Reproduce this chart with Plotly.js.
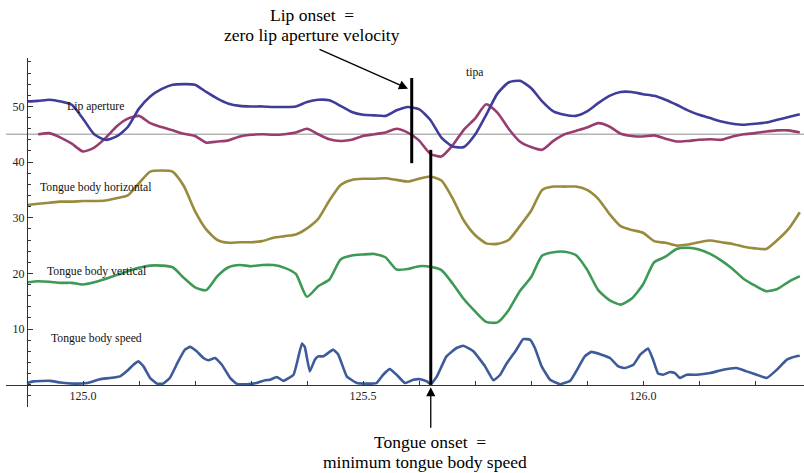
<!DOCTYPE html>
<html>
<head>
<meta charset="utf-8">
<script src="https://cdn.plot.ly/plotly-3.0.1.min.js"></script>
<style>html,body{margin:0;padding:0;background:#fff;}#chart{width:804px;height:473px;}</style>
</head>
<body>
<div id="chart"></div>
<script>
// ---- data ----
const time = [124.90,124.92,124.94,124.96,124.98,125.00,125.02,125.04,125.06,125.08,
  125.10,125.12,125.14,125.16,125.18,125.20,125.22,125.24,125.26,125.28,
  125.30,125.32,125.34,125.36,125.38,125.40,125.42,125.44,125.46,125.48,
  125.50,125.52,125.54,125.56,125.58,125.60,125.62,125.64,125.66,125.68,
  125.70,125.72,125.74,125.76,125.78,125.80,125.82,125.84,125.86,125.88,
  125.90,125.92,125.94,125.96,125.98,126.00,126.02,126.04,126.06,126.08,
  126.10,126.12,126.14,126.16,126.18,126.20,126.22,126.24,126.26,126.28];

const lipAperture = [50.9,51.0,51.2,50.9,50.3,47.8,45.0,44.0,44.6,46.3,
  49.6,51.8,53.1,53.9,54.0,53.9,52.6,51.4,50.5,50.1,
  50.0,50.0,49.9,49.9,50.0,50.8,51.2,51.1,50.1,49.0,
  48.5,48.4,48.3,49.3,49.9,49.5,47.6,44.4,42.8,42.7,
  44.9,48.5,52.3,54.3,54.6,53.3,50.9,49.1,48.5,48.3,
  49.1,50.6,51.9,52.6,52.6,52.2,51.9,51.2,50.3,49.3,
  48.5,47.9,47.3,46.9,46.7,46.9,47.1,47.6,48.1,48.6];

const lipSecond = [null,45.0,45.2,44.4,43.3,41.9,42.6,44.3,46.4,47.8,
  48.3,47.0,46.3,45.7,45.1,44.7,43.5,43.7,43.9,44.6,
  44.9,45.0,44.9,45.0,45.3,46.0,45.0,44.1,43.8,44.0,
  44.7,45.0,45.3,46.0,45.3,43.9,41.5,41.0,43.0,45.8,
  47.8,50.4,48.9,46.0,43.7,42.7,42.2,43.8,45.0,45.6,
  46.2,47.0,46.4,45.1,44.7,44.6,44.8,44.2,43.7,43.8,
  44.0,44.1,44.0,44.6,45.0,45.2,45.5,45.7,45.7,45.3];

const tongueHorizontal = [32.3,32.5,32.7,32.9,32.9,33.0,33.0,33.1,33.5,34.0,
  36.2,38.3,38.5,38.3,35.7,31.2,27.9,26.0,25.5,25.6,
  25.6,25.8,26.4,26.7,27.0,28.1,29.8,33.1,35.9,36.8,
  37.0,37.0,37.1,36.8,36.5,37.0,37.4,36.7,33.5,29.5,
  26.9,25.4,25.3,26.0,28.5,31.2,35.0,35.6,35.6,35.6,
  35.0,33.4,30.7,28.5,27.8,27.3,25.8,25.5,25.0,25.2,
  25.6,25.9,25.6,25.3,24.8,24.5,24.4,26.0,28.0,31.0];

const tongueVertical = [18.4,18.6,18.5,18.3,18.3,18.0,18.4,19.0,19.7,20.4,
  21.0,21.4,21.4,21.1,19.2,17.5,17.0,19.5,21.1,21.5,
  21.3,21.5,21.5,21.0,19.9,15.8,17.7,18.9,22.5,23.2,
  23.4,23.5,22.9,20.7,20.8,21.3,21.2,20.6,18.2,15.4,
  13.2,11.3,11.2,13.4,16.8,19.3,23.2,23.8,23.9,23.3,
  20.7,17.0,15.2,14.4,15.5,18.0,22.0,23.0,24.4,24.6,
  24.3,23.5,22.3,20.8,19.0,17.8,16.8,17.2,18.5,19.5];

const timeSpeed = [124.900,124.911,124.941,124.959,124.983,125.007,125.030,125.048,125.066,125.081,
  125.090,125.099,125.108,125.120,125.132,125.143,125.155,125.170,125.182,125.191,
  125.203,125.215,125.224,125.236,125.248,125.263,125.274,125.292,125.310,125.325,
  125.334,125.346,125.358,125.376,125.382,125.391,125.396,125.405,125.414,125.420,
  125.429,125.447,125.456,125.471,125.489,125.507,125.524,125.536,125.548,125.560,
  125.575,125.590,125.602,125.614,125.621,125.632,125.649,125.667,125.679,125.697,
  125.718,125.733,125.745,125.757,125.774,125.786,125.798,125.807,125.819,125.834,
  125.852,125.870,125.884,125.896,125.908,125.926,125.941,125.956,125.968,125.983,
  125.995,126.009,126.018,126.027,126.036,126.048,126.057,126.066,126.078,126.096,
  126.120,126.143,126.167,126.185,126.203,126.221,126.239,126.257,126.274,126.280];

const tongueSpeed = [0.3,0.6,0.7,0.4,0.2,0.3,1.0,1.2,1.5,2.7,
  3.6,4.2,3.3,1.2,0.2,0.2,1.2,4.2,6.3,6.8,
  6.0,4.8,4.4,4.8,3.6,1.2,0.2,0.1,0.3,0.8,
  0.9,1.4,0.7,1.8,3.9,7.4,6.8,2.4,4.5,5.1,
  5.1,6.3,5.4,1.5,0.3,0.2,0.3,1.8,2.8,1.8,
  0.3,0.9,1.0,0.6,0.1,1.5,5.1,6.6,7.0,6.0,
  3.3,0.8,1.8,3.9,6.3,8.2,8.1,6.6,3.3,0.9,
  0.1,0.7,3.0,5.1,5.9,5.4,4.8,3.3,3.0,3.6,
  5.4,6.5,4.5,2.0,1.8,2.3,2.1,1.2,1.8,1.8,
  2.1,2.7,3.0,2.4,1.8,1.2,2.7,4.5,5.1,5.2];

const seriesNames = ["Lip aperture", "", "Tongue body horizontal", "Tongue body vertical", "Tongue body speed"];
const referenceLevel = 45;
const lipOnset = 125.587;      // zero lip aperture velocity
const lipOnsetSpan = [39.8, 55.1];
const tongueOnset = 125.621;   // minimum tongue body speed
const tongueOnsetSpan = [0, 42.2];

const xTickVals = [124.9,125.0,125.1,125.2,125.3,125.4,125.5,125.6,125.7,125.8,125.9,126.0,126.1,126.2];
const xTickText = ["","125.0","","","","","125.5","","","","","126.0","",""];
const yTickVals = [10,20,30,40,50];
const yMinorTicks = [-4,-2,0,2,4,6,8,12,14,16,18,22,24,26,28,32,34,36,38,42,44,46,48,52,54,56,58];

// ---- styling ----
const serif = "Liberation Serif";
const colors = ["#3f3d99", "#993d71", "#998b3d", "#3d9956", "#3d5a99"];
const xRange = [124.8625, 126.2875];
const yRange = [-4, 58.7];
const axisX0 = 124.9;

function line(x, y, c, sm) {
  return {x: x, y: y, type: "scatter", mode: "lines", connectgaps: false,
    line: {color: c, width: 2.6, shape: "spline", smoothing: sm}, hoverinfo: "skip", showlegend: false};
}

const traces = [
  line(time, lipSecond, colors[1], 0.6),
  line(time, lipAperture, colors[0], 0.6),
  line(time, tongueHorizontal, colors[2], 0.6),
  line(time, tongueVertical, colors[3], 0.6),
  line(timeSpeed, tongueSpeed, colors[4], 0.35)
];

const labelFont = {family: serif, size: 11.7, color: "#111"};
const bigFont = {family: serif, size: 17.5, color: "#000"};

function label(text, x, y, anchor) {
  return {text: text, x: x, y: y, xref: "x", yref: "y", showarrow: false,
    xanchor: anchor || "left", yanchor: "middle", font: labelFont};
}
function pageText(text, px, py) {
  return {text: text, x: (px - 6) / 798, y: (407 - py) / 349, xref: "paper", yref: "paper",
    showarrow: false, xanchor: "center", yanchor: "middle", font: bigFont};
}

const annotations = [
  label(seriesNames[0], 124.968, 49.96),
  label("tipa", 125.700, 56.06, "center"),
  label(seriesNames[2], 124.920, 35.40),
  label(seriesNames[3], 124.932, 20.31),
  label(seriesNames[4], 124.939, 8.27),
  pageText("Lip onset \u00A0=", 312, 15),
  pageText("zero lip aperture velocity", 312, 35),
  pageText("Tongue onset \u00A0=", 430, 442),
  pageText("minimum tongue body speed", 425, 462),
  {text: "", x: 125.5804, y: 53.19, xref: "x", yref: "y", showarrow: true,
    ax: -90, ay: -40, axref: "pixel", ayref: "pixel", arrowhead: 2, arrowsize: 1.4,
    arrowwidth: 1.3, arrowcolor: "#000", standoff: 0, startstandoff: 0},
  {text: "", x: tongueOnset, y: -0.45, xref: "x", yref: "y", showarrow: true,
    ax: 0, ay: 42, arrowhead: 2, arrowsize: 1.4, arrowwidth: 1.3, arrowcolor: "#000",
    standoff: 0, startstandoff: 0}
];

const shapes = [
  {type: "line", xref: "paper", yref: "y", x0: 0, x1: 1, y0: referenceLevel, y1: referenceLevel,
    line: {color: "#b4b4b4", width: 1.6}, layer: "below"},
  {type: "line", xref: "x", yref: "y", x0: lipOnset, x1: lipOnset, y0: lipOnsetSpan[0], y1: lipOnsetSpan[1],
    line: {color: "#000", width: 3}},
  {type: "line", xref: "x", yref: "y", x0: tongueOnset, x1: tongueOnset, y0: tongueOnsetSpan[0], y1: tongueOnsetSpan[1],
    line: {color: "#000", width: 3}}
];

const layout = {
  width: 804, height: 473,
  margin: {l: 6, r: 0, t: 58, b: 66, pad: 0},
  paper_bgcolor: "#fff", plot_bgcolor: "#fff",
  showlegend: false,
  font: {family: serif},
  xaxis: {
    range: xRange, anchor: "free", position: (0 - yRange[0]) / (yRange[1] - yRange[0]),
    showline: true, linecolor: "#333", linewidth: 1, zeroline: false, showgrid: false,
    tickmode: "array", tickvals: xTickVals, ticktext: xTickText,
    ticks: "inside", ticklen: 4, tickwidth: 1, tickcolor: "#333",
    tickfont: {family: serif, size: 12, color: "#222"}
  },
  yaxis: {
    range: yRange, anchor: "free", position: (axisX0 - xRange[0]) / (xRange[1] - xRange[0]),
    showline: true, linecolor: "#333", linewidth: 1, zeroline: false, showgrid: false,
    tickmode: "array", tickvals: yTickVals,
    ticks: "inside", ticklen: 5, tickwidth: 1, tickcolor: "#333",
    minor: {tickmode: "array", tickvals: yMinorTicks, ticks: "inside", ticklen: 3, tickcolor: "#333", showgrid: false},
    tickfont: {family: serif, size: 12, color: "#222"}
  },
  annotations: annotations,
  shapes: shapes
};

Plotly.newPlot("chart", traces, layout, {staticPlot: true, displayModeBar: false});
</script>
</body>
</html>
